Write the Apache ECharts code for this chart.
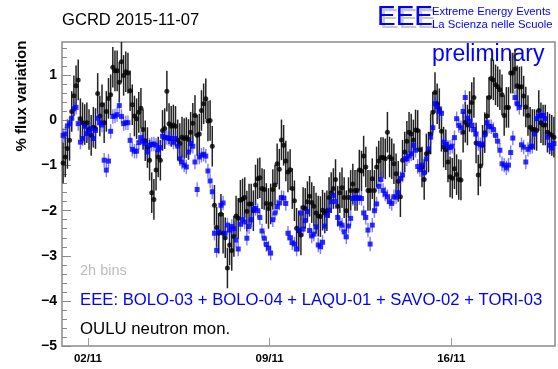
<!DOCTYPE html>
<html>
<head>
<meta charset="utf-8">
<script src="https://cdn.jsdelivr.net/npm/echarts@6/dist/echarts.min.js"></script>
<style>
  html, body { margin: 0; padding: 0; background: #fff; }
  #chart { width: 558px; height: 369px; }
</style>
</head>
<body>
<div id="chart"></div>
<script>
// 2-hour bins starting 2015-11-01 00:00, x measured in hours
const binHours = 2;
const tickHours = [24, 192, 360];
const tickLabels = ['02/11', '09/11', '16/11'];
const yMajorTicks = [-5, -4, -3, -2, -1, 0, 1];

// OULU neutron monitor, % flux variation per 2h bin
const oulu = [
  -0.94,-0.81,-0.62,-0.44,0.2,0.55,0.77,0.9,0.04,-0.05,
  -0.09,-0.05,-0.2,-0.33,-0.15,-0.18,0.6,0.1,0.35,-0.05,
  0.2,0.49,0.57,1.18,1.1,1.1,0.85,1.3,1.0,1.08,
  1.05,0.66,0.35,0.1,0.04,0.18,0.27,-0.2,-0.45,-0.6,
  -0.88,-1.6,-1.75,-1.1,-0.81,-0.88,-0.22,-0.18,0.65,-0.07,
  -0.13,-0.1,-0.13,-0.43,-0.51,-0.37,-0.4,-0.38,-0.42,-0.26,
  -0.06,0.11,-0.33,-0.3,0.22,0.37,0.48,-0.01,0.0,-0.57,
  -1.88,-2.37,-2.5,-2.08,-2.5,-2.6,-3.27,-2.76,-2.88,-2.57,
  -2.12,-2.17,-1.77,-1.74,-1.71,-2.01,-1.85,-1.85,-2.0,-1.43,
  -1.29,-1.27,-1.51,-1.53,-1.84,-1.95,-1.85,-1.53,-1.43,-0.96,
  -1.08,-0.43,-0.55,-0.9,-1.14,-1.09,-1.51,-1.78,-2.39,-2.45,
  -2.54,-1.93,-1.95,-1.8,-1.68,-1.82,-1.9,-2.05,-2.12,-2.13,
  -1.99,-2.05,-2.0,-1.71,-1.6,-1.51,-1.31,-1.9,-1.6,-1.49,
  -1.71,-2.0,-1.71,-1.55,-1.41,-1.55,-1.55,-1.1,-1.12,-0.79,
  -1.03,-1.55,-1.55,-1.29,-1.55,-1.03,-0.9,-0.82,-0.82,-0.85,
  -0.26,-0.81,-0.85,-0.96,-1.18,-1.35,-1.69,-0.88,-0.7,-0.46,
  -0.26,-0.3,-0.43,-0.21,-0.22,-0.65,-1.03,-1.31,-0.74,-0.7,
  -0.3,0.18,0.62,0.37,0.26,-0.24,-0.59,-0.65,-0.92,-1.25,
  -1.28,-1.07,-1.2,-1.31,-1.32,-0.26,-0.04,-0.1,0.2,0.4,
  0.51,-0.5,-1.21,-1.01,-0.55,-0.27,0.1,0.51,0.93,0.9,
  0.79,0.75,0.68,0.57,0.11,0.29,0.29,1.05,1.05,1.14,
  0.77,0.74,0.75,0.54,0.3,0.11,-0.15,-0.2,-0.2,-0.22,
  0.22,-0.05,-0.1,-0.1,-0.26,-0.3,-0.33,-0.37
];
const ouluErr = 0.45;

// EEE telescopes combined, % flux variation per 2h bin
const eee = [
  -0.33,-0.3,-0.12,-0.07,0.05,0.26,0.29,-0.07,-0.48,-0.4,
  -0.13,-0.29,-0.26,-0.18,-0.4,-0.22,0.05,-0.05,-0.1,-0.88,
  -1.1,-0.9,-0.24,0.09,0.1,0.13,0.33,0.09,-0.07,-0.05,
  -0.05,-0.44,-0.64,-0.68,-0.68,-0.49,-0.38,-0.46,-0.51,-0.7,
  -0.55,-0.53,-0.52,-0.55,-0.65,-0.6,-0.35,-0.38,-0.38,-0.4,
  -0.4,-0.48,-0.4,-0.57,-0.85,-0.92,-0.99,-1.03,-0.7,-0.51,
  -0.57,-0.92,-1.53,-0.81,-0.77,-0.75,-0.79,-1.12,-1.34,-1.58,
  -2.5,-2.88,-2.47,-1.88,-1.83,-2.5,-2.32,-2.43,-2.35,-2.4,
  -2.65,-2.85,-2.3,-2.2,-2.25,-2.61,-2.35,-2.2,-1.97,-1.95,
  -2.0,-2.15,-2.45,-2.61,-2.75,-2.83,-2.94,-2.2,-2.05,-1.91,
  -1.83,-1.71,-1.72,-1.84,-2.5,-2.6,-2.71,-2.74,-2.85,-2.43,
  -2.05,-2.41,-2.22,-2.02,-2.44,-2.56,-2.52,-2.36,-2.76,-2.8,
  -2.7,-2.34,-2.1,-1.99,-1.8,-1.66,-1.8,-2.15,-2.28,-2.32,
  -2.47,-2.58,-2.34,-2.17,-1.73,-1.71,-1.73,-1.71,-1.73,-2.05,
  -2.15,-2.43,-2.74,-2.32,-2.0,-1.85,-1.46,-1.31,-1.55,-1.63,
  -1.69,-1.8,-1.84,-1.69,-1.7,-1.6,-1.29,-1.21,-0.85,-0.85,
  -0.79,-0.74,-0.55,-0.66,-1.02,-1.09,-0.99,-1.16,-0.85,-0.63,
  -0.37,-0.16,0.37,0.31,0.2,0.16,-0.48,-0.53,-0.59,-0.6,
  -0.57,-0.38,0.04,-0.11,-0.16,0.2,0.51,0.05,-0.02,-0.11,
  -0.2,-0.3,-0.51,-0.54,-0.52,-0.32,-0.05,-0.13,-0.14,-0.2,
  -0.33,-0.46,-0.66,-0.96,-0.99,-1.05,-0.99,-0.71,-0.39,0.51,
  0.37,0.29,-0.54,-0.59,-0.92,-0.64,-0.59,-0.57,-0.3,0.04,
  0.1,0.11,0.11,0.04,-0.37,-0.55,-0.61,-0.51
];
const eeeErr = 0.16;

const FONT = '"Liberation Sans", Arial, Helvetica, sans-serif';
const xMax = 19 * 24;
const yMin = -5, yMax = 1.74;

// minor ticks every 0.2 between the unit ticks
const minorTicks = [];
for (let k = 0; k < 34; k++) {
  const v = Math.round((yMin + k * 0.2) * 10) / 10;
  if (v > yMax) break;
  if (Math.abs(v - Math.round(v)) > 1e-6) minorTicks.push(v);
}

const binCenter = i => (i + 0.5) * binHours;
const points = (vals, err) => vals.map((v, i) => [binCenter(i), v, err]);

function errorBars(vals, err, color, width) {
  return {
    type: 'custom',
    silent: true,
    clip: true,
    data: points(vals, err),
    encode: { x: 0, y: 1 },
    renderItem: (params, api) => {
      const x = api.value(0), y = api.value(1), e = api.value(2);
      const lo = api.coord([x, y - e]);
      const hi = api.coord([x, y + e]);
      return {
        type: 'line',
        shape: { x1: lo[0], y1: lo[1], x2: hi[0], y2: hi[1] },
        style: { stroke: color, lineWidth: width }
      };
    }
  };
}

const minus = v => String(v).replace('-', '\u2212');

const chart = echarts.init(document.getElementById('chart'), null, { renderer: 'canvas' });
chart.setOption({
  animation: false,
  backgroundColor: '#ffffff',
  grid: {
    left: 62, right: 3, top: 42, bottom: 23,
    show: true, borderColor: '#8a8a8a', borderWidth: 1.5, backgroundColor: 'transparent'
  },
  xAxis: {
    type: 'value', min: 0, max: xMax,
    axisLine: { show: false, onZero: false },
    splitLine: { show: false },
    axisTick: {
      show: true, inside: true, length: 8, customValues: tickHours,
      lineStyle: { color: '#9a9a9a', width: 1 }
    },
    axisLabel: {
      show: true, customValues: tickHours, margin: 7,
      formatter: v => tickLabels[tickHours.indexOf(v)] || '',
      fontFamily: FONT, fontSize: 11.5, fontWeight: 'bold', color: '#000'
    }
  },
  yAxis: [{
    type: 'value', min: yMin, max: yMax,
    axisLine: { show: false, onZero: false },
    splitLine: { show: false },
    axisTick: {
      show: true, inside: true, length: 9, customValues: yMajorTicks,
      lineStyle: { color: '#8a8a8a', width: 1 }
    },
    axisLabel: {
      show: true, customValues: yMajorTicks, margin: 5,
      formatter: minus,
      fontFamily: FONT, fontSize: 14, fontWeight: 'bold', color: '#000'
    }
  }, {
    type: 'value', min: yMin, max: yMax, position: 'left',
    axisLine: { show: false, onZero: false },
    splitLine: { show: false },
    axisLabel: { show: false },
    axisTick: {
      show: true, inside: true, length: 5, customValues: minorTicks,
      lineStyle: { color: '#8a8a8a', width: 1 }
    }
  }],
  graphic: [
    { type: 'text', x: 62, y: 20,
      style: { text: 'GCRD 2015-11-07', font: '16.6px ' + FONT, fill: '#000', verticalAlign: 'middle' } },
    { type: 'text', x: 22, y: 96, rotation: Math.PI / 2,
      style: { text: '% flux variation', font: 'bold 15px ' + FONT, fill: '#000', align: 'center', verticalAlign: 'middle' } },
    { type: 'text', x: 380, y: 20,
      style: { text: 'EEE', font: '28px ' + FONT, fill: '#c8c8c8', verticalAlign: 'middle' } },
    { type: 'text', x: 377, y: 17,
      style: { text: 'EEE', font: '28px ' + FONT, fill: '#0000ff', verticalAlign: 'middle' } },
    { type: 'text', x: 432, y: 12,
      style: { text: 'Extreme Energy Events', font: '11.3px ' + FONT, fill: '#0000ff', verticalAlign: 'middle' } },
    { type: 'text', x: 432, y: 25,
      style: { text: 'La Scienza nelle Scuole', font: '11.3px ' + FONT, fill: '#0000ff', verticalAlign: 'middle' } },
    { type: 'text', x: 432, y: 55,
      style: { text: 'preliminary', font: '23px ' + FONT, fill: '#0000ff', verticalAlign: 'middle' } },
    { type: 'text', x: 80, y: 271,
      style: { text: '2h bins', font: '14.5px ' + FONT, fill: '#bdbdbd', verticalAlign: 'middle' } },
    { type: 'text', x: 80, y: 300,
      style: { text: 'EEE: BOLO-03 + BOLO-04 + LAQU-01 + SAVO-02 + TORI-03', font: '16.7px ' + FONT, fill: '#0000ff', verticalAlign: 'middle' } },
    { type: 'text', x: 80, y: 329,
      style: { text: 'OULU neutron mon.', font: '16.8px ' + FONT, fill: '#000', verticalAlign: 'middle' } }
  ],
  series: [
    errorBars(oulu, ouluErr, '#222222', 1.5),
    {
      type: 'scatter', symbol: 'circle', symbolSize: 5,
      data: points(oulu, ouluErr),
      itemStyle: { color: '#000' }, silent: true
    },
    errorBars(eee, eeeErr, 'rgba(40,40,255,0.6)', 1.4),
    {
      type: 'scatter', symbol: 'rect', symbolSize: 5,
      data: points(eee, eeeErr),
      itemStyle: { color: '#0000ff' }, silent: true
    }
  ]
});
</script>
</body>
</html>
